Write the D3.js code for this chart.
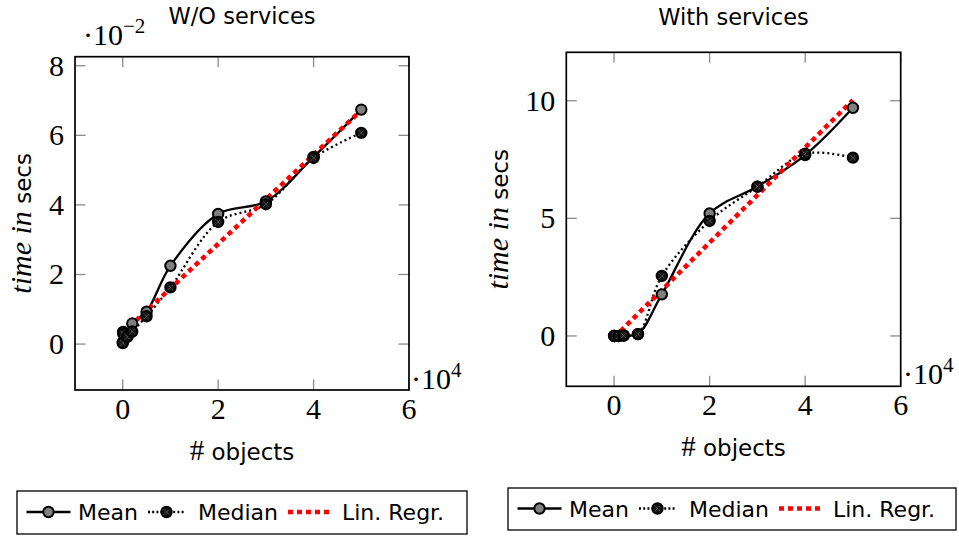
<!DOCTYPE html>
<html>
<head>
<meta charset="utf-8">
<script src="https://cdn.jsdelivr.net/npm/d3@7"></script>
<style>
body{margin:0;background:#fff;}
svg{display:block;}
</style>
</head>
<body>
<script>
// number of objects per run (x values)
var objects=[10,100,1000,2000,5000,10000,20000,30000,40000,50000];
var xTicks=[0,20000,40000,60000];

// W/O services, times in 1e-2 secs
var meanNoSrv=[0.05,0.35,0.25,0.59,0.93,2.25,3.74,4.10,5.38,6.74];
var medianNoSrv=[0.03,0.30,0.21,0.36,0.80,1.63,3.51,4.02,5.35,6.07];
var regNoSrv=[0.32,6.72];
var yTicksNoSrv=[0,2,4,6,8];

// With services, times in secs
var meanSrv=[0.0,0.0,0.0,0.02,0.08,1.77,5.21,6.35,7.69,9.70];
var medianSrv=[0.0,0.0,0.0,0.02,0.08,2.55,4.89,6.35,7.75,7.58];
var regSrv=[-0.07,10.03];
var yTicksSrv=[0,5,10];

var regX=[0,50000];
var legendItems=["Mean","Median","Lin. Regr."];

// small stand-in for d3-selection-multi
d3.selection.prototype.attrs=function(o){
    for(var k in o){this.attr(k,o[k]);}
    return this;
};

var W=959,H=536;
var serif="'Liberation Serif','Times New Roman',serif";
var sans="'DejaVu Sans',sans-serif";

var svg=d3.select("body").append("svg").attr("width",W).attr("height",H);

var panels=[
    {title:"W/O services",mean:meanNoSrv,median:medianNoSrv,reg:regNoSrv,yTicks:yTicksNoSrv,yDom:[-1.32,8.26],
     box:{l:75,r:409,t:56.7,b:390},titleY:24,yLabX:22,xLabY:460,xExp:{x:411,y:389},yExp:{x:83,y:45},
     legend:{l:17,r:467,t:491,b:534}},
    {title:"With services",mean:meanSrv,median:medianSrv,reg:regSrv,yTicks:yTicksSrv,yDom:[-2.14,12.06],
     box:{l:566.3,r:900.7,t:52.3,b:386.3},titleY:25,yLabX:499,xLabY:456,xExp:{x:903,y:384},yExp:null,
     legend:{l:508,r:956,t:488,b:530}}
];
// legend slot offsets from box left: line start, line end, text x
var legendSlots=[[9.5,53.5,61],[131,168,181],[271,313,325]];

function meanMarker(g,cx,cy){
    g.append("circle").attrs({"cx":cx,"cy":cy,"r":5.2,"fill":"#808080","stroke":"#000","stroke-width":2});
}
function medianMarker(g,cx,cy){
    g.append("circle").attrs({"cx":cx,"cy":cy,"r":5.2,"fill":"#151515","stroke":"#000","stroke-width":2});
    var d=2.8;
    g.append("path").attrs({"d":"M"+(cx-d)+","+(cy-d)+"L"+(cx+d)+","+(cy+d)+"M"+(cx-d)+","+(cy+d)+"L"+(cx+d)+","+(cy-d),
        "stroke":"#8a8a8a","stroke-width":0.9,"stroke-dasharray":"1,1","fill":"none"});
}

panels.forEach(function(p){
    var b=p.box;
    var x=d3.scaleLinear().domain([-10000,60000]).range([b.l,b.r]);
    var y=d3.scaleLinear().domain(p.yDom).range([b.b,b.t]);
    var g=svg.append("g");

    // ticks (inside, mirrored)
    var tk=10.5;
    xTicks.forEach(function(v){
        g.append("line").attrs({"x1":x(v),"x2":x(v),"y1":b.b,"y2":b.b-tk,"stroke":"#8c8c8c","stroke-width":1.3});
        g.append("line").attrs({"x1":x(v),"x2":x(v),"y1":b.t,"y2":b.t+tk,"stroke":"#8c8c8c","stroke-width":1.3});
        g.append("text").attr("x",x(v)).attr("y",b.b+29).attr("text-anchor","middle")
            .style("font-family",serif).style("font-size","30px").text(v/10000);
    });
    p.yTicks.forEach(function(v){
        g.append("line").attrs({"x1":b.l,"x2":b.l+tk,"y1":y(v),"y2":y(v),"stroke":"#8c8c8c","stroke-width":1.3});
        g.append("line").attrs({"x1":b.r,"x2":b.r-tk,"y1":y(v),"y2":y(v),"stroke":"#8c8c8c","stroke-width":1.3});
        g.append("text").attr("x",b.l-11).attr("y",y(v)+10).attr("text-anchor","end")
            .style("font-family",serif).style("font-size","30px").text(v);
    });

    g.append("rect").attrs({"x":b.l,"y":b.t,"width":b.r-b.l,"height":b.b-b.t,"fill":"none","stroke":"#000","stroke-width":1.7});

    var line=d3.line().x(function(d){return x(d[0]);}).y(function(d){return y(d[1]);}).curve(d3.curveCatmullRom.alpha(0.5));
    var meanPts=objects.map(function(o,i){return [o,p.mean[i]];});
    var medPts=objects.map(function(o,i){return [o,p.median[i]];});
    var regPts=regX.map(function(o,i){return [o,p.reg[i]];});

    g.append("path").attr("d",line(meanPts)).attrs({"fill":"none","stroke":"#000","stroke-width":2.3});
    g.append("path").attr("d",line(medPts)).attrs({"fill":"none","stroke":"#000","stroke-width":2.3,"stroke-dasharray":"2,3"});
    g.append("path").attr("d",d3.line().x(function(d){return x(d[0]);}).y(function(d){return y(d[1]);})(regPts))
        .attrs({"fill":"none","stroke":"#ff0000","stroke-width":4.6,"stroke-dasharray":"5,4"});

    meanPts.forEach(function(d){meanMarker(g,x(d[0]),y(d[1]));});
    medPts.forEach(function(d){medianMarker(g,x(d[0]),y(d[1]));});

    // title
    g.append("text").attr("x",(b.l+b.r)/2).attr("y",p.titleY).attr("text-anchor","middle")
        .style("font-family",sans).style("font-size","22.5px").text(p.title);

    // x label
    var xl=g.append("text").attr("x",(b.l+b.r)/2).attr("y",p.xLabY).attr("text-anchor","middle");
    xl.append("tspan").style("font-family",serif).style("font-size","29px").text("#");
    xl.append("tspan").style("font-family",sans).style("font-size","23px").text(" objects");

    // y label
    var yl=g.append("text").attr("transform","translate("+(p.yLabX+9)+","+((b.t+b.b)/2)+") rotate(-90)").attr("text-anchor","middle");
    yl.append("tspan").style("font-family",serif).style("font-style","italic").style("font-size","30px").text("time in");
    yl.append("tspan").style("font-family",sans).style("font-size","23px").text(" secs");

    // scale exponents
    var xe=g.append("text").attr("x",p.xExp.x).attr("y",p.xExp.y).style("font-family",serif).style("font-size","30px");
    xe.append("tspan").text("\u00b710");
    xe.append("tspan").attr("dy",-12).style("font-size","21px").text("4");
    if(p.yExp){
        var ye=g.append("text").attr("x",p.yExp.x).attr("y",p.yExp.y).style("font-family",serif).style("font-size","30px");
        ye.append("tspan").text("\u00b710");
        ye.append("tspan").attr("dy",-12).style("font-size","21px").text("\u22122");
    }

    // legend
    var L=p.legend;
    var lg=g.append("g");
    lg.append("rect").attrs({"x":L.l,"y":L.t,"width":L.r-L.l,"height":L.b-L.t,"fill":"#fff","stroke":"#000","stroke-width":1.3});
    var ly=(L.t+L.b)/2-0.5;
    var ty=ly+8;
    legendItems.forEach(function(name,i){
        var s=legendSlots[i];
        var x0=L.l+s[0],x1=L.l+s[1];
        if(i===0){
            lg.append("line").attrs({"x1":x0,"x2":x1,"y1":ly,"y2":ly,"stroke":"#000","stroke-width":2.3});
            meanMarker(lg,(x0+x1)/2,ly);
        }else if(i===1){
            lg.append("line").attrs({"x1":x0,"x2":x1,"y1":ly,"y2":ly,"stroke":"#000","stroke-width":2.3,"stroke-dasharray":"2,2.2"});
            medianMarker(lg,(x0+x1)/2,ly);
        }else{
            lg.append("line").attrs({"x1":x0,"x2":x1,"y1":ly,"y2":ly,"stroke":"#ff0000","stroke-width":4.6,"stroke-dasharray":"5,4"});
        }
        lg.append("text").attr("x",L.l+s[2]).attr("y",ty).style("font-family",sans).style("font-size","22px").text(name);
    });
});
</script>
</body>
</html>
